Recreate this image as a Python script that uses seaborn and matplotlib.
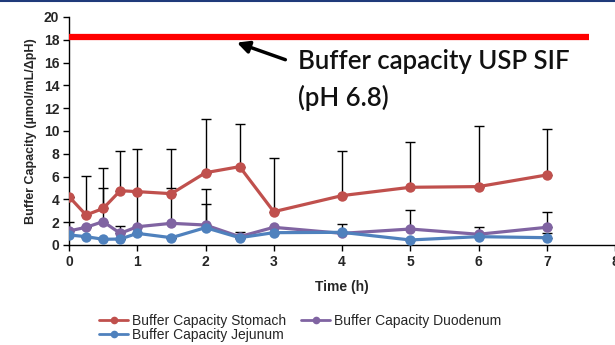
import numpy as np
import pandas as pd
import matplotlib
matplotlib.use("Agg")
import matplotlib.pyplot as plt
import seaborn as sns
from matplotlib.lines import Line2D

# Sampling times (h)
time_h = [0, 0.25, 0.5, 0.75, 1, 1.5, 2, 2.5, 3, 4, 5, 6, 7]

# Mean buffer capacity (µmol/mL/ΔpH) per segment
stomach = [4.24, 2.63, 3.20, 4.76, 4.68, 4.50, 6.34, 6.87, 2.92, 4.33, 5.06, 5.12, 6.14]
duodenum = [1.23, 1.55, 2.05, 1.02, 1.60, 1.90, 1.75, 0.73, 1.55, 1.02, 1.40, 0.94, 1.55]
jejunum = [0.88, 0.73, 0.50, 0.52, 1.02, 0.64, 1.52, 0.64, 1.08, 1.11, 0.44, 0.73, 0.64]

# Standard deviations (plotted as upper error bars)
stomach_sd = [0.0, 3.42, 3.52, 3.51, 3.71, 3.89, 4.69, 3.73, 4.74, 3.92, 3.94, 5.35, 4.04]
duodenum_sd = [0.77, 0.0, 2.98, 0.68, 3.05, 3.10, 3.13, 0.37, 0.0, 0.78, 1.67, 0.66, 1.32]
jejunum_sd = [0.0, 0.0, 0.0, 0.0, 0.0, 0.0, 2.10, 0.0, 0.0, 0.0, 0.0, 0.0, 0.40]

series_names = ["Buffer Capacity Stomach", "Buffer Capacity Duodenum", "Buffer Capacity Jejunum"]
series_colors = ["#C0504D", "#8064A2", "#4F81BD"]

# USP simulated intestinal fluid reference level
usp_sif_level = 18.25
usp_sif_label = "Buffer capacity USP SIF\n(pH 6.8)"

x_ticks = [0, 1, 2, 3, 4, 5, 6, 7, 8]
y_ticks = [0, 2, 4, 6, 8, 10, 12, 14, 16, 18, 20]

sns.set_theme(style="white")
plt.rcParams["font.family"] = ["Liberation Sans Narrow", "Liberation Sans", "DejaVu Sans"]

long = pd.DataFrame({
    "time": time_h * 3,
    "value": stomach + duodenum + jejunum,
    "series": sum([[n] * len(time_h) for n in series_names], []),
})

fig = plt.figure(figsize=(6.15, 3.45), dpi=100)
ax = fig.add_axes([0.1122, 0.2899, 0.8878, 0.661])

# upper-only error bars, beneath the lines
for vals, sd in [(stomach, stomach_sd), (duodenum, duodenum_sd), (jejunum, jejunum_sd)]:
    ax.errorbar(time_h, vals, yerr=[np.zeros(len(sd)), sd], fmt="none",
                ecolor="black", elinewidth=1.0, capsize=3.5, capthick=1.0, zorder=1)

sns.lineplot(data=long, x="time", y="value", hue="series", hue_order=series_names,
             palette=series_colors, marker="o", markersize=7.5, markeredgewidth=0,
             linewidth=2.3, legend=False, ax=ax, zorder=3)

# reference line and annotation
ax.plot([0, 7.62], [usp_sif_level, usp_sif_level], color="#FF0000", linewidth=4.5,
        solid_capstyle="butt", zorder=4)
ax.annotate("", xy=(2.46, 17.75), xytext=(3.17, 16.25),
            arrowprops=dict(arrowstyle="-|>,head_length=0.6,head_width=0.3",
                            color="black", lw=2.5, shrinkA=0, shrinkB=0))
ax.text(3.36, 17.15, usp_sif_label, family=["Lato", "DejaVu Sans"], fontsize=18.5,
        fontweight="semibold", ha="left", va="top", linespacing=1.5, color="#111111")

ax.set_xlim(0, 8)
ax.set_ylim(0, 20)
ax.set_xticks(x_ticks)
ax.set_yticks(y_ticks)
ax.set_xticklabels([str(t) for t in x_ticks], fontweight="bold", fontsize=10)
ax.set_yticklabels([str(t) for t in y_ticks], fontweight="bold", fontsize=10)
ax.tick_params(axis="both", direction="out", length=4, width=1, color="black",
               bottom=True, left=True, pad=3)
for side in ["top", "right"]:
    ax.spines[side].set_visible(False)
for side in ["left", "bottom"]:
    ax.spines[side].set_color("black")
    ax.spines[side].set_linewidth(1)

ax.set_xlabel("Time (h)", fontweight="bold", fontsize=10, labelpad=8)
ax.set_ylabel("Buffer Capacity (µmol/mL/ΔpH)", fontweight="bold", fontsize=9, labelpad=5)

handles = [Line2D([], [], color=c, marker="o", markersize=5.5, markeredgewidth=0, linewidth=2)
           for c in series_colors]
order = [0, 2, 1]
fig.legend([handles[i] for i in order], [series_names[i] for i in order],
           loc="lower left", bbox_to_anchor=(0.152, -0.008), ncol=2, frameon=False,
           fontsize=10, handlelength=2.1, handletextpad=0.25, columnspacing=1.1,
           labelspacing=0.05, borderaxespad=0)

# navy rule along the top edge
fig.add_artist(Line2D([0, 1], [0.997, 0.997], color="#1F3A7A", linewidth=1.5,
                      transform=fig.transFigure))

fig.savefig("out.png", dpi=100)
